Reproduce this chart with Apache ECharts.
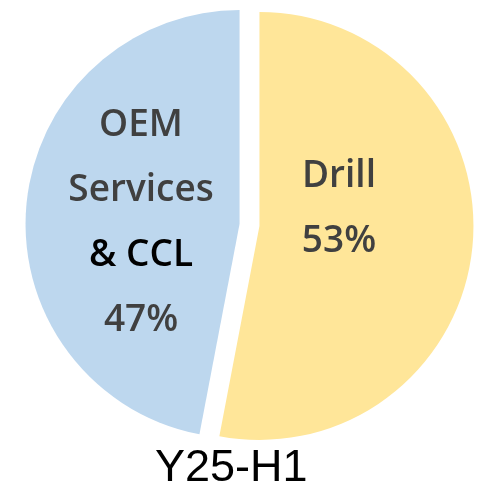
<!DOCTYPE html>
<html>
<head>
<meta charset="utf-8">
<script src="https://cdn.jsdelivr.net/npm/echarts@6/dist/echarts.min.js"></script>
<style>
  html, body { margin: 0; padding: 0; background: #ffffff; }
  #chart { width: 477px; height: 491px; }
</style>
</head>
<body>
<div id="chart"></div>
<script>
// ---- data ----
var categories = ['Drill', 'OEM Services & CCL'];
var values = [53, 47];
var labelLines = [['Drill'], ['OEM', 'Services', '& CCL']];
var emphasisLine = [null, '& CCL'];
var colors = ['#FFE699', '#BDD7EE'];
var titleText = 'Y25-H1';

var data = categories.map(function (c, i) {
  return { name: c, value: values[i], selected: true, itemStyle: { color: colors[i] } };
});

var chart = echarts.init(document.getElementById('chart'), null, { renderer: 'canvas' });
chart.setOption({
  backgroundColor: '#ffffff',
  animation: false,
  title: {
    text: titleText,
    left: 155,
    top: 446,
    padding: 0,
    textStyle: { fontFamily: 'Liberation Sans, Arial, sans-serif', fontSize: 45, fontWeight: 'normal', color: '#000000' }
  },
  series: [{
    type: 'pie',
    center: [249.5, 225],
    radius: 214,
    startAngle: 90,
    clockwise: true,
    selectedMode: 'multiple',
    selectedOffset: 10,
    avoidLabelOverlap: false,
    emphasis: { disabled: true },
    select: { disabled: false, itemStyle: {} },
    label: {
      show: true,
      position: 'inside',
      formatter: function (p) {
        var lines = labelLines[p.dataIndex].map(function (t) {
          return (t === emphasisLine[p.dataIndex] ? '{k|' : '{g|') + t + '}';
        });
        lines.push('{g|' + Math.round(p.percent) + '%}');
        return lines.join('\n');
      },
      rich: {
        g: { fontFamily: 'Open Sans, sans-serif', fontSize: 37, fontWeight: 600, color: '#404040', lineHeight: 65 },
        k: { fontFamily: 'Open Sans, sans-serif', fontSize: 37, fontWeight: 600, color: '#000000', lineHeight: 65 }
      }
    },
    labelLine: { show: false },
    labelLayout: function (params) {
      return params.dataIndex === 0 ? { dx: -30, dy: -27 } : { dx: 11, dy: 9 };
    },
    data: data
  }]
});
</script>
</body>
</html>
